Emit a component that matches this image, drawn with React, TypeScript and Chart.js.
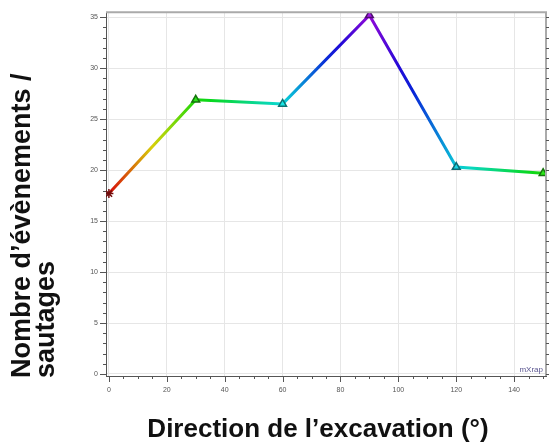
import React, { useEffect, useRef } from "react";
import { Chart, registerables } from "chart.js";

Chart.register(...registerables);

const directions = [0, 30, 60, 90, 120, 150];
const eventCounts = [17.7, 26.9, 26.5, 35.2, 20.3, 19.7];
const pointHues = [0, 115, 180, 280, 185, 115];
const pointShapes = ["star", "triangle", "triangle", "triangle", "triangle", "triangle"];

const xTitle = "Direction de l’excavation (°)";
const yTitleLines = ["Nombre d’évènements /", "sautages"];
const watermark = "mXrap";

const X_MIN = -1;
const X_MAX = 151;
const X_STEP = 20;
const X_MINOR = 5;
const Y_MIN = -0.2;
const Y_MAX = 35.5;
const Y_STEP = 5;
const Y_MINOR = 1;

const FONT = '"Liberation Sans", Arial, sans-serif';

const hsl = (h: number, s: number, l: number) => `hsl(${h}, ${s}%, ${l}%)`;

const decor = {
  id: "decor",
  afterDraw(chart: any) {
    const { ctx, chartArea: a, scales } = chart;
    const x = scales.x;
    const y = scales.y;
    ctx.save();
    // top & right frame
    ctx.strokeStyle = "#aaaaaa";
    ctx.lineWidth = 2;
    ctx.beginPath();
    ctx.moveTo(a.left, a.top);
    ctx.lineTo(a.right, a.top);
    ctx.lineTo(a.right, a.bottom);
    ctx.stroke();

    // tick marks
    ctx.strokeStyle = "#555";
    ctx.lineWidth = 1;
    ctx.beginPath();
    for (let v = 0; v <= Y_MAX; v += Y_MINOR) {
      const py = Math.round(y.getPixelForValue(v)) + 0.5;
      const len = v % Y_STEP === 0 ? 6 : 3;
      ctx.moveTo(a.left - len, py);
      ctx.lineTo(a.left, py);
      ctx.moveTo(a.right, py);
      ctx.lineTo(a.right + 3, py);
    }
    for (let v = 0; v <= X_MAX; v += X_MINOR) {
      const px = Math.round(x.getPixelForValue(v)) + 0.5;
      const len = v % X_STEP === 0 ? 6 : 3;
      ctx.moveTo(px, a.bottom);
      ctx.lineTo(px, a.bottom + len);
    }
    ctx.stroke();

    // watermark
    ctx.fillStyle = "#5a5590";
    ctx.font = `8px ${FONT}`;
    ctx.textAlign = "right";
    ctx.textBaseline = "alphabetic";
    ctx.fillText(watermark, a.right - 3, a.bottom - 4);

    // axis titles
    ctx.fillStyle = "#111";
    ctx.font = `bold 27px ${FONT}`;
    ctx.textAlign = "left";
    yTitleLines.forEach((line, i) => {
      ctx.save();
      ctx.translate(30 + i * 24, 378);
      ctx.rotate(-Math.PI / 2);
      ctx.fillText(line, 0, 0);
      ctx.restore();
    });
    ctx.font = `bold 26px ${FONT}`;
    ctx.textAlign = "center";
    ctx.fillText(xTitle, 318, 437);
    ctx.restore();
  },
};

export default function App() {
  const ref = useRef<HTMLCanvasElement>(null);

  useEffect(() => {
    if (!ref.current) return;
    const lineGradient = (c: any) => {
      const chart = c.chart;
      const area = chart.chartArea;
      const xs = chart.scales.x;
      if (!area || !xs) return hsl(pointHues[0], 90, 44);
      const p0 = xs.getPixelForValue(directions[0]);
      const pN = xs.getPixelForValue(directions[directions.length - 1]);
      const g = chart.ctx.createLinearGradient(p0, 0, pN, 0);
      for (let i = 0; i < directions.length - 1; i++) {
        const a = xs.getPixelForValue(directions[i]);
        const b = xs.getPixelForValue(directions[i + 1]);
        for (let k = 0; k <= 6; k++) {
          const t = k / 6;
          const h = pointHues[i] + (pointHues[i + 1] - pointHues[i]) * t;
          const f = (a + (b - a) * t - p0) / (pN - p0);
          g.addColorStop(Math.min(1, Math.max(0, f)), hsl(h, 92, 44));
        }
      }
      return g;
    };

    const chart = new Chart(ref.current, {
      type: "line",
      data: {
        datasets: [
          {
            data: directions.map((d, i) => ({ x: d, y: eventCounts[i] })),
            borderColor: lineGradient,
            borderWidth: 3,
            tension: 0,
            pointStyle: pointShapes as any,
            pointRadius: 4.5,
            pointBackgroundColor: pointHues.map((h) => hsl(h, 80, 50)),
            pointBorderColor: pointHues.map((h) => hsl(h, 80, 25)),
            pointBorderWidth: 1.5,
          },
        ],
      },
      options: {
        responsive: false,
        animation: false,
        events: [],
        layout: { padding: { left: 0, top: 6, right: 2, bottom: 0 } },
        plugins: { legend: { display: false }, tooltip: { enabled: false } },
        scales: {
          x: {
            type: "linear",
            min: X_MIN,
            max: X_MAX,
            afterFit: (s: any) => {
              s.height = 71;
            },
            ticks: {
              stepSize: X_STEP,
              includeBounds: false,
              padding: 10,
              color: "#555",
              font: { size: 7, family: FONT },
              maxRotation: 0,
            },
            grid: { color: "#e6e6e6", drawTicks: false },
            border: { color: "#555", width: 1 },
          },
          y: {
            type: "linear",
            min: Y_MIN,
            max: Y_MAX,
            afterFit: (s: any) => {
              s.width = 106;
            },
            ticks: {
              stepSize: Y_STEP,
              includeBounds: false,
              padding: 8,
              color: "#555",
              font: { size: 7, family: FONT },
            },
            grid: { color: "#e6e6e6", drawTicks: false },
            border: { color: "#555", width: 1 },
          },
        },
      },
      plugins: [decor],
    });
    return () => chart.destroy();
  }, []);

  return (
    <div style={{ position: "absolute", left: 0, top: 0, width: 552, height: 447, background: "#fff" }}>
      <canvas ref={ref} width={552} height={447} style={{ display: "block" }} />
    </div>
  );
}
